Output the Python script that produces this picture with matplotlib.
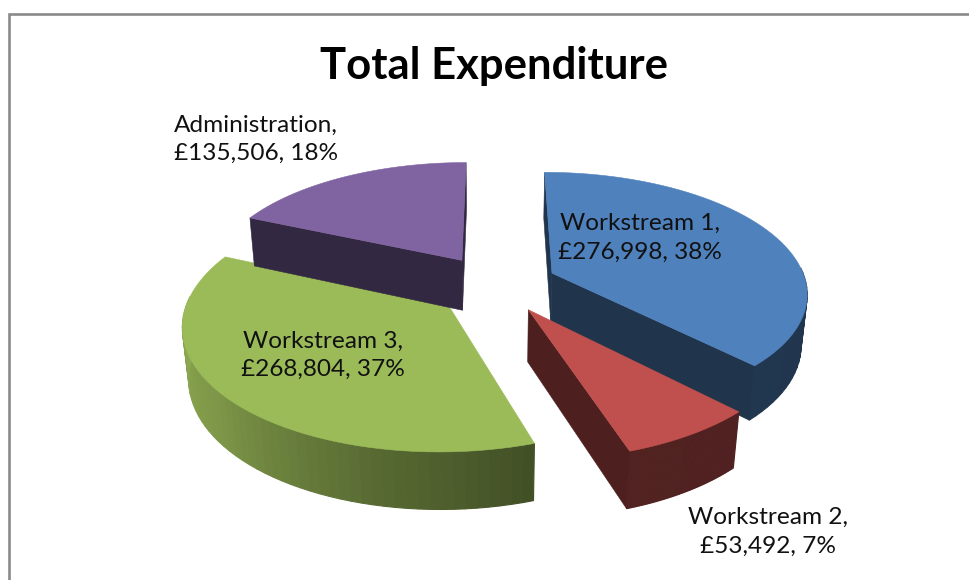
import matplotlib
matplotlib.use("Agg")
import matplotlib.pyplot as plt
from matplotlib.patches import Rectangle
import numpy as np

# Data
categories = ["Workstream 1", "Workstream 2", "Workstream 3", "Administration"]
values = [276998, 53492, 268804, 135506]
colors = ["#4F81BD", "#C0504D", "#9BBB59", "#8064A2"]
title = "Total Expenditure"

# where each label sits (pixels), same order as categories
label_pos = [(640, 238), (768, 532), (323, 355.5), (256, 139.5)]

# fake 3d camera, fitted by eye
cx, cy = 495, 284
rx, ry = 254.5, 119
depth = 52
persp = 0.15
persp_z = 0.02
explode = 0.245

plt.rcParams["font.family"] = ["Lato", "DejaVu Sans"]

fig = plt.figure(figsize=(9.69, 5.8), dpi=100)
ax = fig.add_axes([0, 0, 1, 1])
ax.set_xlim(0, 969)
ax.set_ylim(580, 0)
ax.axis("off")

# chart frame runs off the right and bottom of the image
ax.add_patch(Rectangle((9.3, 13.5), 1000, 600, fc="white", ec="#8A8A8A", lw=1.9))


def project(x, y, z=0.0):
    w = 1 + persp * y + persp_z * z
    return cx + rx * x / w, cy - ry * y / w + depth * z / w


def shade(theta):
    # sides facing left catch the light, sides facing right are dark
    t = np.degrees(theta) % 360
    return np.interp(t, [0, 160, 190, 230, 270, 360], [0.40, 0.42, 0.56, 0.80, 0.92, 0.45])


def darker(color, f):
    rgb = np.array(matplotlib.colors.to_rgb(color))
    return tuple(rgb * f)


def area(p):
    xs, ys = zip(*p)
    return 0.5 * sum(xs[k] * ys[(k + 1) % 4] - xs[(k + 1) % 4] * ys[k] for k in range(4))


total = sum(values)
fracs = [v / total for v in values]
starts = np.cumsum([0] + fracs[:-1]) * 2 * np.pi

# back slice first so the nearer ones paint over it
for i in [3, 0, 2, 1]:
    a0 = starts[i]
    a1 = a0 + fracs[i] * 2 * np.pi
    mid = (a0 + a1) / 2
    ox = explode * np.sin(mid)
    oy = explode * np.cos(mid)
    col = colors[i]
    th = np.linspace(a0, a1, 60)
    xs = ox + np.sin(th)
    ys = oy + np.cos(th)

    # rim, drawn as thin strips so it can carry a gradient; back half is hidden
    for j in range(len(th) - 1):
        if np.cos(th[j]) > 0.03 and np.cos(th[j + 1]) > 0.03:
            continue
        p = [project(xs[j], ys[j]), project(xs[j + 1], ys[j + 1]),
             project(xs[j + 1], ys[j + 1], 1), project(xs[j], ys[j], 1)]
        c = darker(col, shade(th[j]))
        ax.fill(*zip(*p), fc=c, ec=c, lw=0.8, zorder=i + 2)

    # flat cut faces, only the ones turned towards the viewer
    for a, sign in ((a0, -1), (a1, 1)):
        ex, ey = ox + np.sin(a), oy + np.cos(a)
        p = [project(ox, oy), project(ex, ey), project(ex, ey, 1), project(ox, oy, 1)]
        if area(p) * sign > 0:
            ax.fill(*zip(*p), fc=darker(col, 0.40), ec=darker(col, 0.40), lw=0.4, zorder=i + 2)

    # top
    px, py = project(np.r_[ox, xs], np.r_[oy, ys])
    ax.fill(px, py, fc=col, ec=col, lw=0.4, zorder=i + 2)

ax.text(494, 79, title, ha="center", va="baseline", fontsize=31.4, fontweight="bold",
        color="black", zorder=20)

for i in range(len(categories)):
    pct = round(100 * fracs[i])
    txt = f"{categories[i]},\n£{values[i]:,}, {pct}%"
    ax.text(label_pos[i][0], label_pos[i][1], txt, ha="center", va="center", fontsize=17.6,
            color="#111111", linespacing=1.44, zorder=20)

fig.savefig("out.png", dpi=100, facecolor="white")
